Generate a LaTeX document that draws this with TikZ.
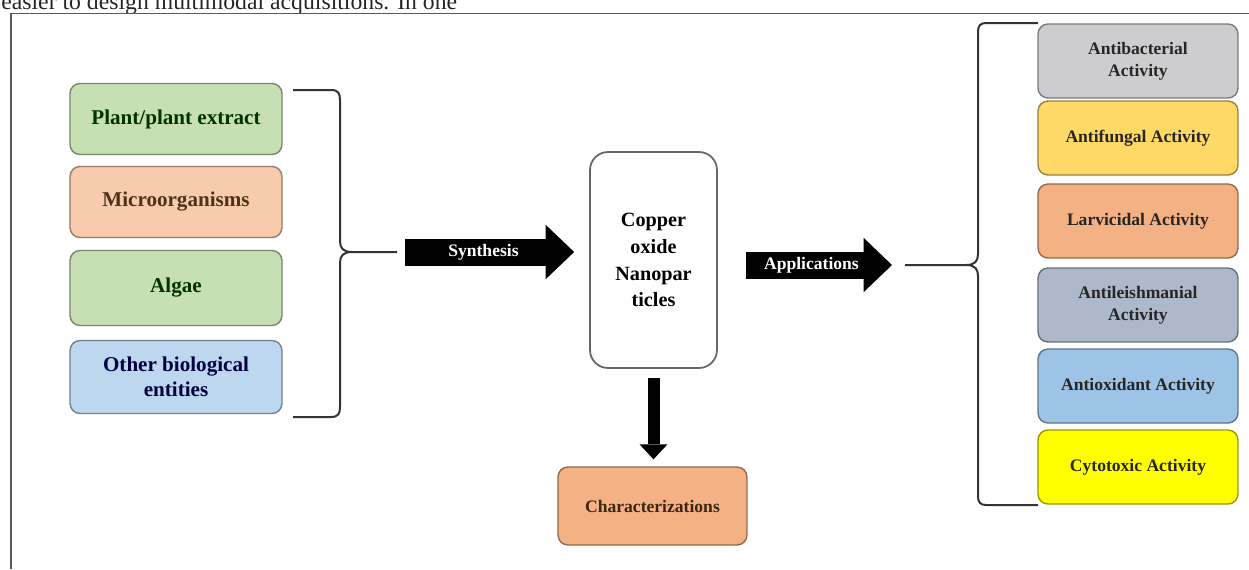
\documentclass[tikz,border=0pt]{standalone}
\usepackage{fontspec}
\setmainfont{Liberation Serif}
\usetikzlibrary{arrows.meta}

\definecolor{leafgreen}{HTML}{C6E0B4}
\definecolor{peach}{HTML}{F8CBAD}
\definecolor{skyblue}{HTML}{BDD7EE}
\definecolor{paleslate}{HTML}{CDCDD0}
\definecolor{goldyellow}{HTML}{FFD966}
\definecolor{tanorange}{HTML}{F4B183}
\definecolor{bluegray}{HTML}{ADB9CA}
\definecolor{midblue}{HTML}{9DC3E6}
\definecolor{brightyellow}{HTML}{FFFF00}

\begin{document}
\begin{tikzpicture}[
  x=0.02cm, y=-0.02cm,
  box/.style={draw=#1!60!black, fill=#1, rounded corners=0.2cm, line width=0.8pt, align=center, inner sep=2pt},
  srcbox/.style={box=#1, minimum width=4.24cm, minimum height=1.42cm, font=\fontsize{12}{14.2}\selectfont\bfseries},
  appbox/.style={box=#1, minimum width=4cm, minimum height=1.48cm, text=black!85, font=\fontsize{10}{12.5}\selectfont\bfseries},
  brace/.style={draw=black!80, line width=0.04cm},
  blockarrow/.style={line width=0.54cm, -{Triangle[length=0.57cm, width=1.09cm, line width=0pt]}},
  thinarrow/.style={line width=0.24cm, -{Triangle[length=0.3cm, width=0.56cm, line width=0pt]}},
  arrowtext/.style={text=white, font=\fontsize{10}{12}\selectfont\bfseries, inner sep=0pt},
]
\useasboundingbox (0,0) rectangle (1249,569);

% ===== Page text and frame =====
\node[anchor=base west, inner sep=0pt, text=black!85, font=\fontsize{13.5}{16}\selectfont] (pagetext) at (1,9.5)
  {easier to design multimodal acquisitions. In one};
\draw[black!65, line width=0.035cm] (11,569) -- (11,13.5) -- (1249,13.5);

% ===== Biological sources =====
\node[srcbox=leafgreen, text=green!20!black] (plant) at (176,119) {Plant/plant extract};
\node[srcbox=peach, text=brown!40!black] (micro) at (176,202) {Microorganisms};
\node[srcbox=leafgreen, text=green!20!black, minimum height=1.5cm] (algae) at (176,288) {Algae};
\node[srcbox=skyblue, text=blue!25!black, minimum height=1.46cm] (other) at (176,377) {Other biological\\entities};

% left brace, its tail is the start of the synthesis arrow
\coordinate (srcTip) at (397,252);
\draw[brace] (293,90) -- (331,90) .. controls (338,90) and (340,93) .. (340,100) -- (340,241)
  .. controls (340,248) and (343,252) .. (352,252) -- (srcTip);
\draw[brace] (293,417) -- (331,417) .. controls (338,417) and (340,414) .. (340,407) -- (340,263)
  .. controls (340,256) and (343,252) .. (352,252);

% ===== Nanoparticles =====
\node[draw=black!60, fill=white, rounded corners=0.36cm, line width=1pt, minimum width=2.54cm, minimum height=4.32cm,
      align=center, font=\fontsize{11.5}{15.3}\selectfont\bfseries] (cuo) at (653.5,260) {Copper\\oxide\\Nanopar\\ticles};

\node[box=tanorange, minimum width=3.78cm, minimum height=1.56cm, text=brown!30!black,
      font=\fontsize{10}{12}\selectfont\bfseries] (charac) at (652.5,506) {Characterizations};

\draw[blockarrow, shorten <=0.16cm, shorten >=0.3cm] (srcTip) -- (srcTip -| cuo.west)
  node[arrowtext, pos=0.45] {Synthesis};
\draw[thinarrow, shorten <=0.18cm, shorten >=0.14cm] (cuo.south) -- (cuo.south |- charac.north);

% ===== Applications =====
\coordinate (appTip) at (905,265);
\draw[blockarrow, shorten <=0.56cm, shorten >=0.26cm] (cuo.east |- appTip) -- (appTip)
  node[arrowtext, midway] {Applications};

\draw[brace] (1038,23) -- (986,23) .. controls (980,23) and (978,26) .. (978,32) -- (978,254)
  .. controls (978,261) and (975,265) .. (966,265) -- (appTip);
\draw[brace] (1038,505) -- (986,505) .. controls (980,505) and (978,502) .. (978,496) -- (978,276)
  .. controls (978,269) and (975,265) .. (966,265);

\node[appbox=paleslate] (antibac) at (1138,61) {Antibacterial\\Activity};
\node[appbox=goldyellow] (antifun) at (1138,138) {Antifungal Activity};
\node[appbox=tanorange] (larvi) at (1138,221) {Larvicidal Activity};
\node[appbox=bluegray] (antileish) at (1138,305) {Antileishmanial\\Activity};
\node[appbox=midblue] (antiox) at (1138,386) {Antioxidant Activity};
\node[appbox=brightyellow] (cyto) at (1138,467) {Cytotoxic Activity};

\end{tikzpicture}
\end{document}
